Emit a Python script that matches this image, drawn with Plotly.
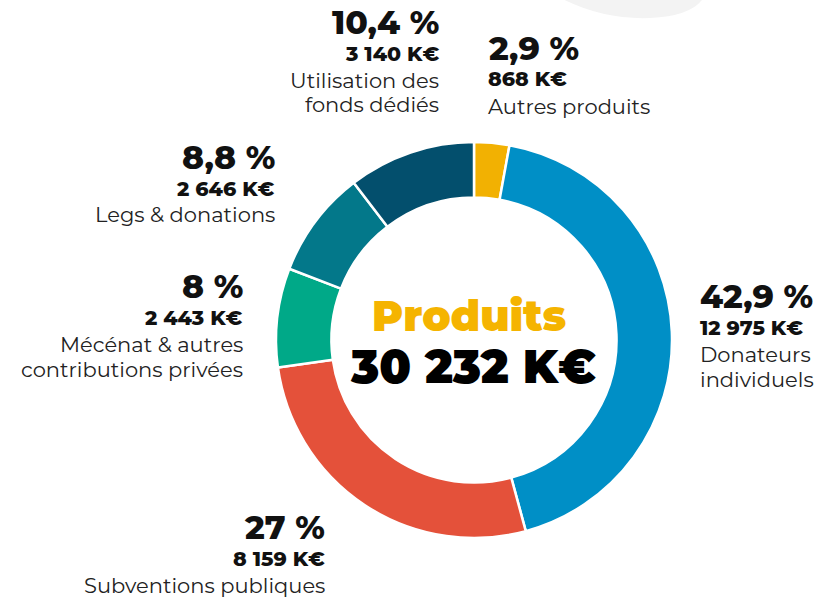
import plotly.graph_objects as go

# ---- data ----
categories = ["Autres produits", "Donateurs individuels", "Subventions publiques",
              "Mécénat & autres contributions privées", "Legs & donations",
              "Utilisation des fonds dédiés"]
values_keur = [868, 12975, 8159, 2443, 2646, 3140]
pct_labels = ["2,9 %", "42,9 %", "27 %", "8 %", "8,8 %", "10,4 %"]
amount_labels = ["868 K€", "12 975 K€", "8 159 K€", "2 443 K€", "2 646 K€", "3 140 K€"]
name_lines = [["Autres produits"], ["Donateurs", "individuels"], ["Subventions publiques"],
              ["Mécénat & autres", "contributions privées"], ["Legs & donations"],
              ["Utilisation des", "fonds dédiés"]]
center_title = "Produits"
center_total = "30 232 K€"

colors = ["#F2B102", "#008FC6", "#E4513A", "#00A988", "#03788A", "#034F6D"]

W, H = 835, 597
FONT = "Montserrat, 'Open Sans', sans-serif"

def px(x):
    return x / W

def py(y):
    return 1 - y / H

# label block anchors (pixel positions): x, anchor side, y of % line
label_pos = [
    (486, "left", 48),
    (698, "left", 296),
    (327, "right", 527),
    (245, "right", 286),
    (277, "right", 157),
    (441, "right", 22),
]

cx, cy, R = 474, 340, 198

fig = go.Figure(go.Pie(
    labels=categories,
    values=values_keur,
    sort=False,
    direction="clockwise",
    rotation=0,
    hole=0.72,
    marker=dict(colors=colors, line=dict(color="white", width=2.5)),
    textinfo="none",
    hoverinfo="label+value+percent",
    showlegend=False,
    domain=dict(x=[px(cx - R), px(cx + R)], y=[py(cy + R), py(cy - R)]),
))

ann = []
for i in range(len(categories)):
    x, side, y0 = label_pos[i]
    ann.append(dict(x=px(x), y=py(y0), text=pct_labels[i], xanchor=side, yanchor="middle",
                    font=dict(family=FONT, size=33, color="#111111", weight=800)))
    ann.append(dict(x=px(x), y=py(y0 + 31), text=amount_labels[i], xanchor=side, yanchor="middle",
                    font=dict(family=FONT, size=20.5, color="#111111", weight=800)))
    for j, line in enumerate(name_lines[i]):
        ann.append(dict(x=px(x), y=py(y0 + 58 + 25 * j), text=line, xanchor=side, yanchor="middle",
                        font=dict(family=FONT, size=21, color="#222222", weight=400)))

ann.append(dict(x=px(469), y=py(316), text=center_title, xanchor="center", yanchor="middle",
                font=dict(family=FONT, size=42, color="#F5B400", weight=900)))
ann.append(dict(x=px(473), y=py(366), text=center_total, xanchor="center", yanchor="middle",
                font=dict(family=FONT, size=46, color="#000000", weight=900)))
for a in ann:
    a.update(xref="paper", yref="paper", showarrow=False)

# decorative light-grey blob at top
blob = [(555, -5), (600, 12), (650, 18), (685, 12), (705, -5)]
path = "M {},{} Q {},{} {},{} Q {},{} {},{} Z".format(
    px(blob[0][0]), py(blob[0][1]),
    px(blob[1][0]), py(blob[1][1] + 8), px(blob[2][0]), py(blob[2][1]),
    px(blob[3][0] + 10), py(blob[3][1] + 4), px(blob[4][0]), py(blob[4][1]))

fig.update_layout(
    width=W, height=H,
    margin=dict(l=0, r=0, t=0, b=0),
    paper_bgcolor="white", plot_bgcolor="white",
    annotations=ann,
    shapes=[dict(type="path", path=path, xref="paper", yref="paper",
                 fillcolor="#F3F3F3", line=dict(width=0), layer="below")],
)

fig.write_html("out.html", config={"displayModeBar": False},
               post_script="document.body.style.margin='0';")
